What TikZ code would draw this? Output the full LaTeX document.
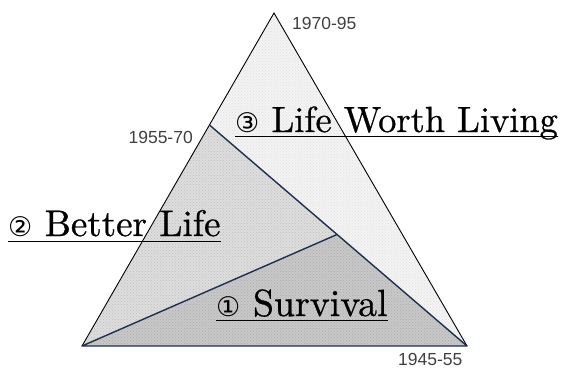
\documentclass[tikz,border=0pt]{standalone}
\usepackage{fontspec}
\usetikzlibrary{patterns}
\newfontfamily\labfont{Liberation Sans}
\newfontfamily\circfont{DejaVu Sans}
\newfontfamily\bigfont{lmroman10-regular}[Extension=.otf, RawFeature={embolden=0.7}]
\definecolor{navy}{HTML}{1F2F4F}
\definecolor{labgray}{HTML}{404040}
\definecolor{regA}{HTML}{C8C8C8}
\definecolor{regB}{HTML}{DDDDDD}
\definecolor{regC}{HTML}{F3F3F3}
\tikzset{
  yearlab/.style={inner sep=0pt, text=labgray, font=\labfont\fontsize{17.5}{18}\selectfont},
  biglab/.style={inner sep=0pt, font=\bigfont\fontsize{37}{37}\selectfont},
  navyline/.style={draw=navy, line width=1.4pt, line join=round},
  edgeline/.style={draw=black, line width=0.9pt},
  uline/.style={draw=black, line width=1.2pt}
}
\newcommand{\circnum}[1]{{\circfont\fontsize{27}{27}\selectfont #1}}
\begin{document}
\begin{tikzpicture}[x=1pt, y=-1pt]
\useasboundingbox (0,0) rectangle (564,369);
\coordinate (A) at (82,346);
\coordinate (B) at (467,346);
\coordinate (T) at (274,13);
\coordinate (P) at (209.5,125);
\coordinate (M) at (337,234.5);
% regions
\fill[regC] (P) -- (T) -- (B) -- cycle;
\fill[pattern=crosshatch dots, pattern color=black!12] (P) -- (T) -- (B) -- cycle;
\fill[regB] (A) -- (P) -- (M) -- cycle;
\fill[pattern=crosshatch dots, pattern color=black!25] (A) -- (P) -- (M) -- cycle;
\fill[regA] (A) -- (M) -- (B) -- cycle;
\fill[pattern=crosshatch dots, pattern color=black!32] (A) -- (M) -- (B) -- cycle;
% edges
\draw[edgeline] (A) -- (T) -- (B);
\draw[navyline] (P) -- (B) -- (A) -- (M);
% year labels
\node[yearlab, anchor=base west] (y1) at (292,30) {1970-95};
\node[yearlab, anchor=base east] (y2) at (193,143) {1955-70};
\node[yearlab, anchor=base west] (y3) at (398,365) {1945-55};
% big labels
\node[biglab, anchor=base west, font=\bigfont\fontsize{36.4}{37}\selectfont] (l3) at (235,132) {\circnum{③} Life Worth Living};
\node[biglab, anchor=base west] (l2) at (8,236) {\circnum{②} Better Life};
\node[biglab, anchor=base west, font=\bigfont\fontsize{37.8}{38}\selectfont] (l1) at (216,316) {\circnum{①} Survival};
\draw[uline] ([yshift=-4.5pt]l3.base west) -- ([yshift=-4.5pt]l3.base east);
\draw[uline] ([yshift=-5.5pt]l2.base west) -- ([yshift=-5.5pt]l2.base east);
\draw[uline] ([yshift=-4.5pt]l1.base west) -- ([yshift=-4.5pt]l1.base east);
\end{tikzpicture}
\end{document}
